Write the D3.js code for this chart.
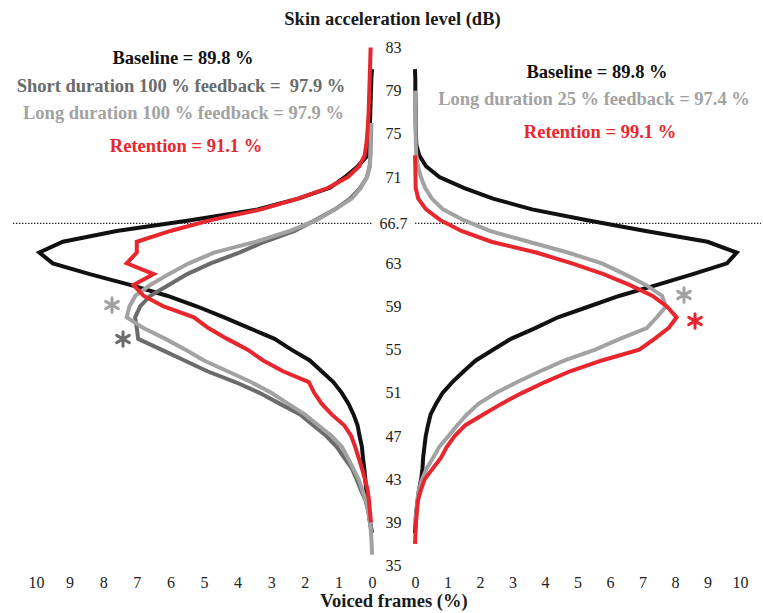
<!DOCTYPE html>
<html>
<head>
<meta charset="utf-8">
<script src="https://cdn.jsdelivr.net/npm/d3@7/dist/d3.min.js"></script>
<style>
  html, body { margin: 0; padding: 0; background: #fff; }
  svg { display: block; }
  text { font-family: "Liberation Serif", "Times New Roman", serif; }
</style>
</head>
<body>
<svg id="chart" width="763" height="613"></svg>
<script>
// ---- Data ----
// sound levels (dB), from top (83) down to bottom (35), 1 dB bins
const levels = [83,82,81,80,79,78,77,76,75,74,73,72,71,70,69,68,67,66,65,64,63,62,61,60,59,58,57,56,55,54,53,52,51,50,49,48,47,46,45,44,43,42,41,40,39,38,37,36,35];

// Left panel: voiced frames (%) per level
const baselineLeft = [null,null,0,0.02,0.03,0.04,0.05,0.06,0.07,0.09,0.13,0.42,0.8,1.25,2.2,3.4,5.4,7.6,9.2,9.9,9.5,8.4,7.2,6.1,5.2,4.4,3.65,2.9,2.4,1.85,1.5,1.15,0.9,0.7,0.55,0.43,0.37,0.3,0.27,0.23,0.2,0.17,0.13,0.1,0.06,0,null,null,null];
const shortFb100Left = [null,null,null,null,null,null,null,0.02,0.03,0.04,0.05,0.07,0.15,0.35,0.65,1.1,1.7,2.3,3.2,3.95,4.8,5.5,6.05,6.6,6.9,7.05,7.0,6.96,6.27,5.58,4.9,4.07,3.35,2.75,2.14,1.75,1.36,1.05,0.83,0.6,0.46,0.33,0.19,0.11,0.05,0,null,null,null];
const longFb100Left = [null,null,null,null,null,null,null,0.03,0.04,0.04,0.05,0.06,0.15,0.33,0.6,1.1,1.65,2.44,3.45,4.7,5.45,6.05,6.6,7.04,7.22,7.3,6.8,6.15,5.55,5.0,4.3,3.6,3.0,2.5,2.0,1.6,1.2,0.9,0.72,0.56,0.4,0.29,0.18,0.11,0.06,0.03,0.01,0,null];
const retentionLeft = [0.04,0.05,0.06,0.07,0.08,0.09,0.1,0.12,0.14,0.17,0.22,0.38,0.72,1.3,2.2,3.3,4.8,6.0,7.0,7.0,7.3,6.5,7.1,6.8,6.2,5.3,4.87,4.31,3.7,3.24,2.65,1.88,1.72,1.5,1.2,0.83,0.62,0.5,0.4,0.3,0.21,0.13,0.09,0.06,0.03,null,null,null,null];

// Right panel
const baselineRight = [null,null,0,0.01,0.01,0.015,0.02,0.02,0.03,0.04,0.13,0.34,0.75,1.5,2.4,3.6,5.3,7.1,9.0,9.9,9.6,8.55,7.45,6.3,5.35,4.4,3.7,2.95,2.4,1.87,1.5,1.15,0.85,0.65,0.48,0.4,0.33,0.29,0.25,0.23,0.19,0.12,0.08,0.04,0.02,0,null,null,null];
const longFb25Right = [null,null,null,null,0,0.01,0.015,0.02,0.02,0.025,0.04,0.09,0.18,0.31,0.52,0.86,1.5,2.3,3.5,4.7,5.75,6.45,7.1,7.6,7.72,7.44,7.13,6.3,5.55,4.6,3.85,3.15,2.5,1.96,1.6,1.3,1.03,0.75,0.56,0.36,0.22,0.12,0.07,0.04,0,null,null,null,null];
const retentionRight = [null,null,null,null,null,null,null,null,null,null,0,0.01,0.015,0.02,0.1,0.34,0.78,1.43,2.35,3.73,4.83,5.8,6.6,7.3,7.75,8.05,7.8,7.37,6.9,5.75,4.77,4.0,3.3,2.67,2.1,1.55,1.22,0.98,0.8,0.55,0.3,0.18,0.09,0.06,0.03,0.015,0,null,null];

// Tick labels
const yTicks = [83,79,75,71,66.7,63,59,55,51,47,43,39,35];
const xTicks = [0,1,2,3,4,5,6,7,8,9,10];
const thresholdLevel = 66.7;

const leftNotes = [
  {text: "Baseline = 89.8 %", cls: "black"},
  {text: "Short duration 100 % feedback =  97.9 %", cls: "dark"},
  {text: "Long duration 100 % feedback = 97.9 %", cls: "light"},
  {text: "Retention = 91.1 %", cls: "red"}
];
const rightNotes = [
  {text: "Baseline = 89.8 %", cls: "black"},
  {text: "Long duration 25 % feedback = 97.4 %", cls: "light"},
  {text: "Retention = 99.1 %", cls: "red"}
];

// ---- Styles ----
const colors = {black: "#111111", dark: "#6b6b6b", light: "#a2a2a2", red: "#e8262d"};

const svg = d3.select("#chart");

const xL = d3.scaleLinear().domain([0, 10]).range([372, 36]);
const xR = d3.scaleLinear().domain([0, 10]).range([415, 740]);
const y = d3.scaleLinear().domain([35, 83]).range([565.5, 47.5]);

// threshold dotted line
[[13, 372], [415, 761]].forEach(([a, b]) => {
  svg.append("line").attr("x1", a).attr("x2", b)
    .attr("y1", y(thresholdLevel)).attr("y2", y(thresholdLevel))
    .attr("stroke", "#222").attr("stroke-width", 1.4).attr("stroke-dasharray", "1.4,1.6");
});

function drawSeries(values, xs, color) {
  const pts = levels.map((l, i) => [l, values[i]]);
  const line = d3.line()
    .defined(d => d[1] !== null)
    .x(d => xs(d[1]))
    .y(d => y(d[0]))
    .curve(d3.curveLinear);
  svg.append("path").datum(pts)
    .attr("d", line)
    .attr("fill", "none")
    .attr("stroke", color)
    .attr("stroke-width", 4)
    .attr("stroke-linejoin", "miter")
    .attr("stroke-miterlimit", 4);
}

drawSeries(baselineLeft, xL, colors.black);
drawSeries(shortFb100Left, xL, colors.dark);
drawSeries(longFb100Left, xL, colors.light);
drawSeries(retentionLeft, xL, colors.red);

drawSeries(baselineRight, xR, colors.black);
drawSeries(longFb25Right, xR, colors.light);
drawSeries(retentionRight, xR, colors.red);

// axes (tick labels only)
function styleAxis(g) {
  g.select(".domain").remove();
  g.selectAll("text").attr("font-family", "Liberation Serif, Times New Roman, serif")
    .attr("font-size", 16).attr("fill", "#222");
}
svg.append("g").attr("transform", "translate(0,577)")
  .call(d3.axisBottom(xL).tickValues(xTicks).tickSize(0).tickPadding(0).tickFormat(d3.format("d")))
  .call(styleAxis);
svg.append("g").attr("transform", "translate(0,577)")
  .call(d3.axisBottom(xR).tickValues(xTicks).tickSize(0).tickPadding(0).tickFormat(d3.format("d")))
  .call(styleAxis);

svg.append("g").attr("transform", "translate(393.5,0)")
  .call(d3.axisRight(y).tickValues(yTicks).tickSize(0).tickPadding(0).tickFormat(d => String(d)))
  .call(styleAxis)
  .selectAll("text").attr("text-anchor", "middle");

// titles
svg.append("text").attr("x", 392.5).attr("y", 25).attr("text-anchor", "middle")
  .attr("font-size", 18.5).attr("font-weight", "bold").attr("fill", "#1a1a1a")
  .text("Skin acceleration level (dB)");
svg.append("text").attr("x", 394).attr("y", 607).attr("text-anchor", "middle")
  .attr("font-size", 18.5).attr("font-weight", "bold").attr("fill", "#1a1a1a")
  .text("Voiced frames (%)");

// annotations
const leftPos = [[183, 64], [181, 92], [183.5, 119], [186, 152]];
leftNotes.forEach((n, i) => {
  svg.append("text").attr("x", leftPos[i][0]).attr("y", leftPos[i][1])
    .attr("text-anchor", "middle").attr("font-size", 18.5).attr("font-weight", "bold")
    .attr("fill", colors[n.cls]).style("white-space", "pre").text(n.text);
});
const rightPos = [[597, 78], [594, 105], [600, 138]];
rightNotes.forEach((n, i) => {
  svg.append("text").attr("x", rightPos[i][0]).attr("y", rightPos[i][1])
    .attr("text-anchor", "middle").attr("font-size", 18.5).attr("font-weight", "bold")
    .attr("fill", colors[n.cls]).style("white-space", "pre").text(n.text);
});

// significance markers (asterisks)
const stars = [
  {x: 112, y: 305, c: colors.light},
  {x: 123, y: 339, c: colors.dark},
  {x: 684, y: 295, c: colors.light},
  {x: 695, y: 321, c: colors.red}
];
const star = d3.symbol().type(d3.symbolAsterisk).size(150);
stars.forEach(s => {
  svg.append("path").attr("d", star())
    .attr("transform", `translate(${s.x},${s.y})`)
    .attr("fill", "none").attr("stroke", s.c)
    .attr("stroke-width", 3).attr("stroke-linecap", "round");
});
</script>
</body>
</html>
